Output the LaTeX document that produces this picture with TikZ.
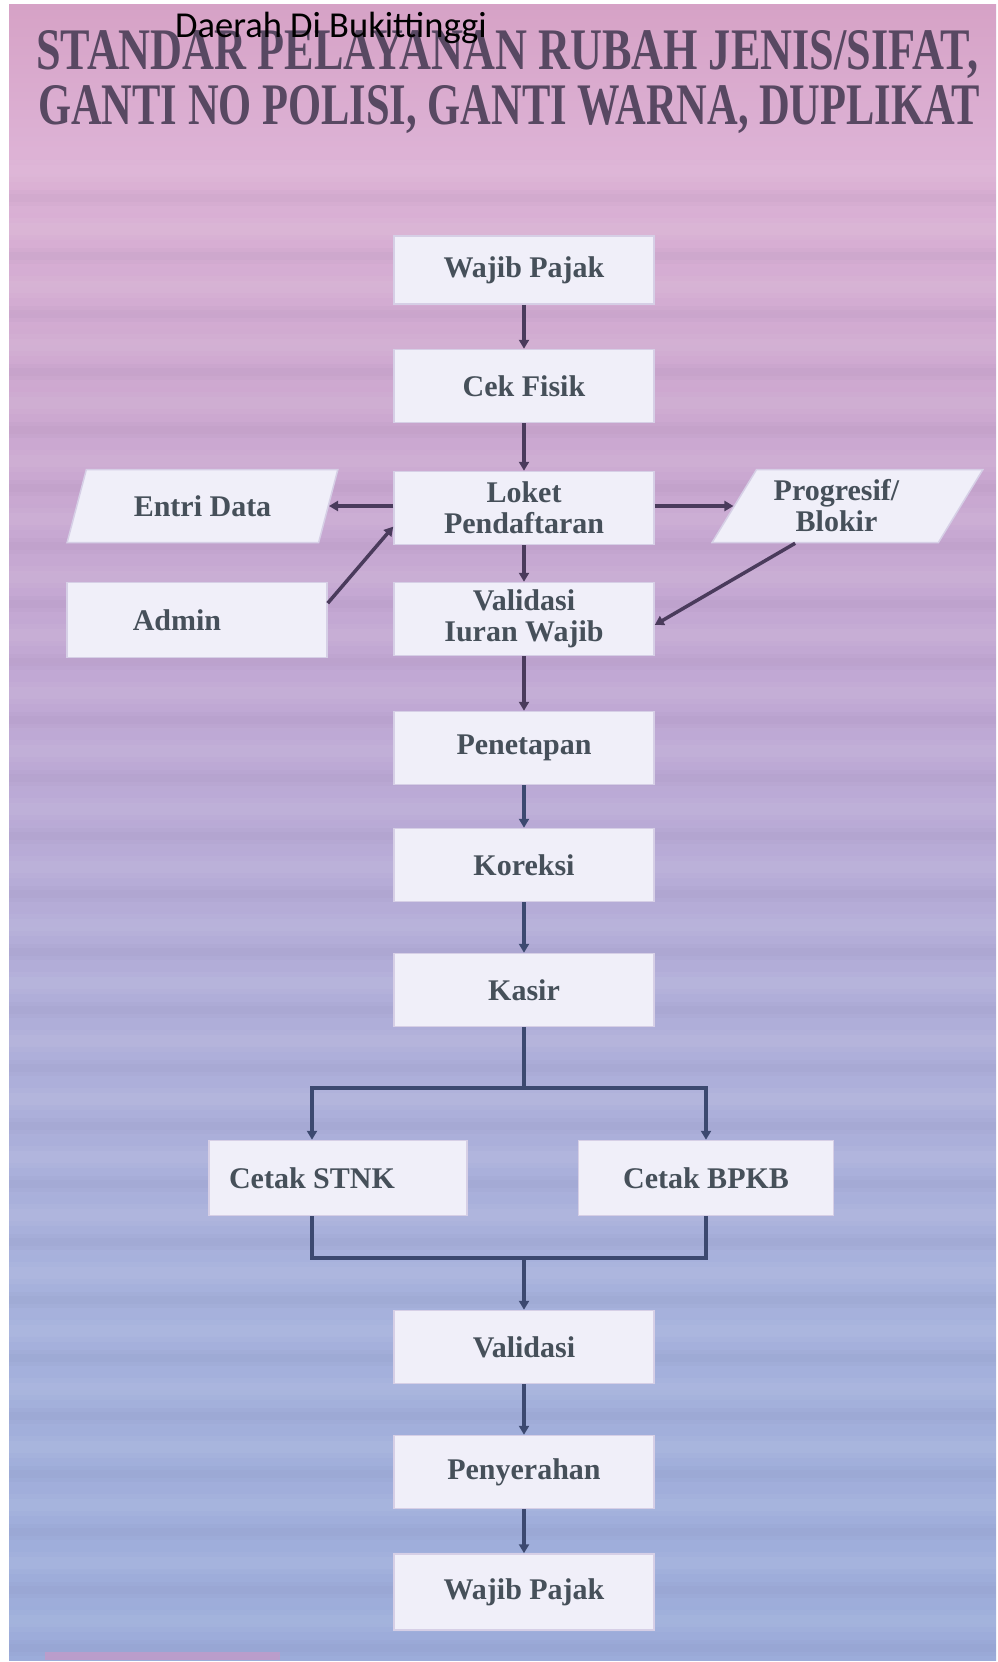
\documentclass[tikz,border=0pt]{standalone}
\usepackage{fontspec}
\usepackage{graphicx}
\setmainfont{Liberation Serif}
\newfontfamily\calibfont{Carlito}
\usetikzlibrary{shapes.geometric,arrows.meta,calc}
\definecolor{bgA}{HTML}{D6A2C6}
\definecolor{bgB}{HTML}{DDB2D5}
\definecolor{bgC}{HTML}{CDA8D0}
\definecolor{bgD}{HTML}{C0A8D4}
\definecolor{bgE}{HTML}{B0AED9}
\definecolor{bgF}{HTML}{A6B1DC}
\definecolor{bgG}{HTML}{9CACDA}
\definecolor{boxfill}{HTML}{F0EFF9}
\definecolor{boxline}{HTML}{D6CFE6}
\definecolor{txtc}{HTML}{46505A}
\definecolor{titlec}{HTML}{584862}
\definecolor{lnA}{HTML}{4A3B5C}
\definecolor{lnB}{HTML}{3C4970}
\definecolor{pinkpatch}{HTML}{C898C6}
\pgfdeclareverticalshading{bgshade}{100bp}{color(0bp)=(bgG); color(25bp)=(bgG); color(35.9bp)=(bgF); color(44.9bp)=(bgE); color(54bp)=(bgD); color(63.1bp)=(bgC); color(70.6bp)=(bgB); color(75bp)=(bgA); color(100bp)=(bgA)}
\begin{document}
\begin{tikzpicture}[x=1pt,y=-1pt,
  box/.style={draw=boxline, line width=1.5pt, fill=boxfill, minimum width=260pt,
    minimum height=73pt, inner sep=2pt, font=\fontsize{30}{31}\selectfont\bfseries,
    text=txtc, align=center},
  para/.style={box, trapezium, trapezium left angle=65, trapezium right angle=115,
    trapezium stretches=true, minimum width=271pt, minimum height=73pt},
  conA/.style={draw=lnA, line width=3.5pt},
  conB/.style={draw=lnB, line width=3.8pt},
  arrA/.style={conA, -{Triangle[length=9pt,width=10pt]}},
  arrB/.style={conB, -{Triangle[length=9pt,width=10pt]}}]
% page and background
\useasboundingbox (0,0) rectangle (998,1662);
\fill[white] (0,0) rectangle (998,1662);
\shade[shading=bgshade] (9,5) rectangle (996,1660);
\foreach \yy in {160,218,...,1640} {
  \fill[white, opacity=0.04] (9,\yy) rectangle (996,\yy+22);
  \fill[white, opacity=0.04] (9,\yy+5) rectangle (996,\yy+17);
  \fill[lnA, opacity=0.025] (9,\yy+30) rectangle (996,\yy+46);
  \fill[lnA, opacity=0.025] (9,\yy+34) rectangle (996,\yy+42);
}
\fill[pinkpatch, opacity=0.7] (45,1652) rectangle (280,1660);
% title
\node[anchor=base west, inner sep=0pt, text=titlec] (title1) at (36,69)
  {\resizebox{942pt}{39pt}{\bfseries STANDAR PELAYANAN RUBAH JENIS/SIFAT,}};
\node[anchor=base west, inner sep=0pt, text=titlec] (title2) at (38,124)
  {\resizebox{942pt}{39pt}{\bfseries GANTI NO POLISI, GANTI WARNA, DUPLIKAT}};
\node[anchor=base west, inner sep=0pt, text=black] (daerah) at (175,38)
  {\calibfont\fontsize{36.5}{40}\selectfont Daerah Di Bukittinggi};
% nodes
\node[box, minimum height=68pt] (wp1) at (524,270) {Wajib Pajak};
\node[box] (cek) at (524,386) {Cek Fisik};
\node[box] (loket) at (524,508) {Loket\\Pendaftaran};
\node[box] (val1) at (524,619) {Validasi\\Iuran Wajib};
\node[box] (penet) at (524,748) {Penetapan};
\node[box] (kor) at (524,865) {Koreksi};
\node[box] (kasir) at (524,990) {Kasir};
\node[box, minimum width=258pt, minimum height=75pt] (stnk) at (338,1178) {\hspace*{-52pt}Cetak STNK};
\node[box, minimum width=255pt, minimum height=75pt] (bpkb) at (706,1178) {Cetak BPKB};
\node[box] (val2) at (524,1347) {Validasi};
\node[box] (penyer) at (524,1472) {Penyerahan};
\node[box, minimum height=76pt] (wp2) at (524,1592) {Wajib Pajak};
\node[para] (entri) at (202.5,506) {Entri Data};
\node[box, minimum height=75pt] (admin) at (197,620) {\hspace*{-40pt}Admin};
\node[para] (prog) at (847.5,506) {\hspace*{-22pt}Progresif/\\\hspace*{-22pt}Blokir};
% connectors
\draw[arrA] (wp1) -- (cek);
\draw[arrA] (cek) -- (loket);
\draw[arrA] (loket) -- (val1);
\draw[arrA] (loket.west |- entri.east) -- (entri.east);
\draw[arrA] (loket.east |- prog.west) -- (prog.west);
\coordinate (adminout) at ($(admin.north east)!0.28!(admin.south east)$);
\coordinate (loketin) at ($(loket.north west)!0.75!(loket.south west)$);
\draw[arrA] (adminout) -- (loketin);
\coordinate (progout) at ($(prog.bottom left corner)!0.37!(prog.bottom right corner)$);
\coordinate (valin) at ($(val1.north east)!0.58!(val1.south east)$);
\draw[arrA] (progout) -- (valin);
\draw[arrA] (val1) -- (penet);
\draw[arrB] (penet) -- (kor);
\draw[arrB] (kor) -- (kasir);
\coordinate (sc) at (524,1088);
\coordinate (sl) at (312,1088);
\coordinate (sr) at (706,1088);
\coordinate (jc) at (524,1258);
\coordinate (jl) at (312,1258);
\coordinate (jr) at (706,1258);
\draw[conB] (kasir.south) -- (sc);
\draw[conB, line cap=rect] (sl) -- (sr);
\draw[arrB] (sl) -- (sl |- stnk.north);
\draw[arrB] (sr) -- (sr |- bpkb.north);
\draw[conB, line join=miter] (sl |- stnk.south) -- (jl) -- (jr) -- (jr |- bpkb.south);
\draw[arrB] (jc) -- (val2);
\draw[arrB] (val2) -- (penyer);
\draw[arrB] (penyer) -- (wp2);
\end{tikzpicture}
\end{document}
